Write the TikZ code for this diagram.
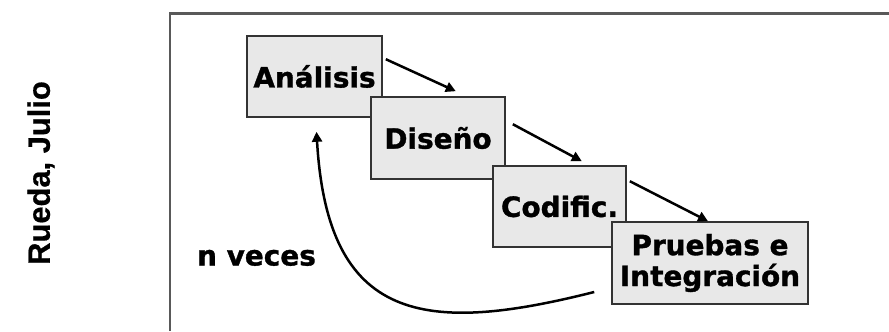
\documentclass[tikz,border=0pt]{standalone}
\usepackage{fontspec}
\newfontfamily\stagefont{DejaVu Sans}[BoldFeatures={FakeBold=1.2}]
\newfontfamily\authorfont{Liberation Sans}[BoldFeatures={FakeBold=0.6}]
\usetikzlibrary{arrows.meta}
\begin{document}
\begin{tikzpicture}[x=1bp,y=-1bp,
  stage/.style={draw=black!80,line width=1.6bp,fill=black!9,inner sep=0pt,minimum height=81bp,align=center,font=\stagefont\bfseries\fontsize{28}{31}\selectfont},
  flow/.style={line width=2.5bp,-{Triangle[length=10bp,width=10bp]}}]
\useasboundingbox (0,0) rectangle (889,331);
\draw[black!65,line width=2.6bp] (170,331)--(170,13.5)--(889,13.5);
\node[rotate=90,font=\authorfont\bfseries\fontsize{31}{36}\selectfont] (autor) at (41,173) {Rueda, Julio};
\node[stage,minimum width=135bp] (ana) at (314.5,76.5) {Análisis};
\node[stage,minimum width=134bp,minimum height=82bp] (dis) at (438,138) {Diseño};
\node[stage,minimum width=133bp] (cod) at (559.5,206.5) {Codific.};
\node[stage,minimum width=196bp,minimum height=82bp] (pru) at (710,263) {Pruebas e\\Integración};
\node[anchor=base,font=\stagefont\bfseries\fontsize{28}{31}\selectfont] (veces) at (256.5,265.5) {n veces};
\draw[flow] ([shift={(3,24)}]ana.north east)--([shift={(-50,-5)}]dis.north east);
\draw[flow] ([shift={(7,28)}]dis.north east)--([shift={(-45,-4)}]cod.north east);
\draw[flow] ([shift={(3,16)}]cod.north east)--([shift={(-2,0)}]pru.north);
\draw[flow] ([shift={(-17,29)}]pru.west) .. controls +(-170,43) and +(11,191) .. ([shift={(2,14)}]ana.south);
\end{tikzpicture}
\end{document}
